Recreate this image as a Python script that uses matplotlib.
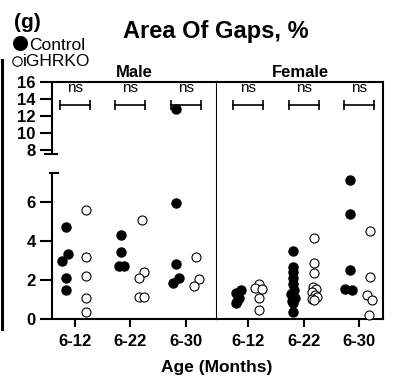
import numpy as np
import matplotlib
matplotlib.use('Agg')
import matplotlib.pyplot as plt
from matplotlib.lines import Line2D

plt.rcParams['font.family'] = ['Liberation Sans', 'DejaVu Sans']

# ---------------- data ----------------
ages = ['6-12', '6-22', '6-30']
panels = ['Male', 'Female']
yticks = [0, 2, 4, 6, 8, 10, 12, 14, 16]
sig_labels = ['ns', 'ns', 'ns']

male_control = [
    [4.71, 3.35, 2.97, 2.10, 1.49],
    [4.29, 3.44, 2.70, 2.70],
    [12.73, 5.96, 2.83, 2.10, 1.87],
]
male_ko = [
    [5.58, 3.21, 2.20, 1.07, 0.38],
    [5.09, 2.44, 2.10, 1.12, 1.12],
    [3.21, 2.04, 1.67],
]
female_control = [
    [1.48, 1.32, 1.10, 0.95, 0.80],
    [3.47, 2.65, 2.40, 2.10, 1.80, 1.50, 1.30, 1.10, 0.95, 0.80, 0.38],
    [7.13, 5.41, 2.50, 1.55, 1.48],
]
female_ko = [
    [1.80, 1.60, 1.53, 1.07, 0.46],
    [4.15, 2.88, 2.35, 1.65, 1.55, 1.40, 1.25, 1.12, 1.02, 0.98],
    [4.50, 2.15, 1.24, 1.00, 0.23],
]

# horizontal scatter offsets (category units)
male_control_dx = [
    [-0.17, -0.12, -0.23, -0.17, -0.17],
    [-0.17, -0.17, -0.21, -0.12],
    [-0.18, -0.18, -0.18, -0.13, -0.23],
]
male_ko_dx = [
    [0.20, 0.20, 0.20, 0.20, 0.20],
    [0.20, 0.25, 0.16, 0.16, 0.25],
    [0.19, 0.24, 0.14],
]
female_control_dx = [
    [-0.13, -0.22, -0.16, -0.20, -0.22],
    [-0.19, -0.19, -0.19, -0.19, -0.19, -0.17, -0.23, -0.15, -0.21, -0.19, -0.19],
    [-0.17, -0.17, -0.17, -0.25, -0.13],
]
female_ko_dx = [
    [0.20, 0.13, 0.25, 0.20, 0.20],
    [0.19, 0.19, 0.19, 0.17, 0.22, 0.15, 0.20, 0.24, 0.16, 0.19],
    [0.20, 0.20, 0.14, 0.24, 0.18],
]

# ---------------- broken y scale ----------------
BRK, GAP, K, EPS = 7.5, 0.98, 0.4366, 1e-3


def fwd(y):
    y = np.asarray(y, dtype=float)
    return np.where(y <= BRK, y,
                    np.where(y <= BRK + EPS, BRK + (y - BRK) / EPS * GAP,
                             BRK + GAP + (y - BRK - EPS) * K))


def inv(t):
    t = np.asarray(t, dtype=float)
    return np.where(t <= BRK, t,
                    np.where(t <= BRK + GAP, BRK + (t - BRK) / GAP * EPS,
                             BRK + EPS + (t - BRK - GAP) / K))


W, H = 396, 379
fig = plt.figure(figsize=(W / 100, H / 100), dpi=100)

xl0, xdiv, xr1 = 51.7, 217.0, 383.0
ybot, ytop = 319.0, 81.7
axL = fig.add_axes([xl0 / W, 1 - ybot / H, (xdiv - xl0) / W, (ybot - ytop) / H])
axR = fig.add_axes([xdiv / W, 1 - ybot / H, (xr1 - xdiv) / W, (ybot - ytop) / H])

LW = 1.5
for ax, name, ctrl, ko, cdx, kdx, xlim in [
        (axL, panels[0], male_control, male_ko, male_control_dx, male_ko_dx, (-0.42, 2.56)),
        (axR, panels[1], female_control, female_ko, female_control_dx, female_ko_dx, (-0.56, 2.43))]:
    ax.set_yscale('function', functions=(fwd, inv))
    ax.set_ylim(0, 16)
    ax.set_xlim(*xlim)
    for sp in ax.spines.values():
        sp.set_linewidth(LW)
    ax.spines['left'].set_visible(False)
    for i in range(len(ages)):
        ax.plot(np.array(cdx[i]) + i, ctrl[i], 'o', ms=6.5, color='black',
                mec='black', clip_on=False, zorder=3)
        ax.plot(np.array(kdx[i]) + i, ko[i], 'o', ms=6.5, mfc='white',
                mec='black', mew=0.8, clip_on=False, zorder=3)
        # significance bracket
        ax.plot([i - 0.27, i + 0.27], [13.2, 13.2], color='black', lw=1.2,
                marker='|', ms=7, mew=1.2, zorder=2)
        ax.text(i, 14.78, sig_labels[i], ha='center', va='baseline', fontsize=11)
    ax.set_xticks(range(len(ages)))
    ax.set_xticklabels(ages, fontsize=12, fontweight='bold')
    ax.tick_params(axis='x', direction='out', length=6, width=LW, pad=4.5)
    ax.set_title(name, fontsize=12, fontweight='bold', pad=3.6)
    ax.minorticks_off()

axL.set_yticks(yticks)
axL.set_yticklabels([str(v) for v in yticks], fontsize=12, fontweight='bold')
axL.tick_params(axis='y', direction='out', length=8.5, width=LW, pad=3)
axL.yaxis.set_minor_locator(matplotlib.ticker.NullLocator())
axR.tick_params(axis='y', left=False, labelleft=False)
axR.yaxis.set_minor_locator(matplotlib.ticker.NullLocator())

# custom broken left spine
tr = axL.get_yaxis_transform()
wL = xdiv - xl0
axL.plot([0, 0], [0, BRK], transform=tr, color='black', lw=LW, clip_on=False,
         solid_capstyle='butt')
axL.plot([0, 0], [BRK + EPS, 16], transform=tr, color='black', lw=LW, clip_on=False,
         solid_capstyle='butt')
axL.plot([-2 / wL, 6.6 / wL], [BRK, BRK], transform=tr, color='black', lw=LW,
         clip_on=False)
axL.plot([-6.7 / wL, 5.6 / wL], [BRK + EPS, BRK + EPS], transform=tr, color='black',
         lw=LW, clip_on=False)

# figure texts
fig.text(216 / W, 1 - 38.3 / H, 'Area Of Gaps, %', fontsize=17, fontweight='bold',
         ha='center', va='baseline')
fig.text(14 / W, 1 - 28.5 / H, '(g)', fontsize=15, fontweight='bold',
         ha='left', va='baseline')
fig.text(29 / W, 1 - 49.5 / H, 'Control', fontsize=12.5, ha='left', va='baseline')
fig.text(22.5 / W, 1 - 66.5 / H, 'iGHRKO', fontsize=12.5, ha='left', va='baseline')
fig.add_artist(Line2D([19.5 / W], [1 - 42.5 / H], marker='o', ms=9.8, color='black',
                      transform=fig.transFigure))
fig.add_artist(Line2D([16.8 / W], [1 - 61 / H], marker='o', ms=6.8, mfc='white',
                      mec='black', mew=0.8, transform=fig.transFigure))
fig.text(217 / W, 1 - 372 / H, 'Age (Months)', fontsize=12.5, fontweight='bold',
         ha='center', va='baseline')

# remnant of neighbouring panel at far left
fig.add_artist(Line2D([1.5 / W, 1.5 / W], [1 - 60 / H, 1 - 329 / H], lw=2.2,
                      color='black', transform=fig.transFigure))

fig.savefig('out.png', dpi=100)
